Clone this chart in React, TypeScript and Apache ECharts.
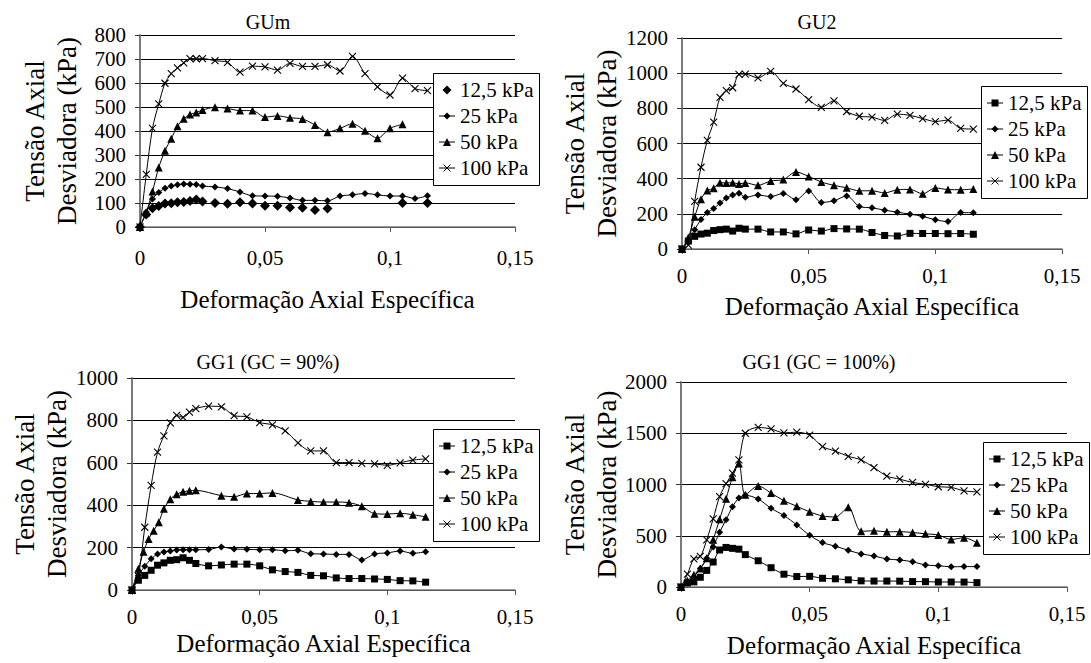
import React, { useEffect, useRef } from 'react';
import * as echarts from 'echarts';

// Axial strain steps shared by most curves
const STRAIN = [
  0, 0.0025, 0.005, 0.0075, 0.01, 0.0125, 0.015, 0.0175, 0.02, 0.0225, 0.025,
  0.03, 0.035, 0.04, 0.045, 0.05, 0.055, 0.06, 0.065, 0.07, 0.075, 0.08, 0.085,
  0.09, 0.095, 0.1, 0.105, 0.11, 0.115,
];

// GG1 (GC = 90%), 50 kPa was read at its own strain steps
const STRAIN_GG90_50 = [
  0, 0.0025, 0.0045, 0.0065, 0.0085, 0.0105, 0.0125, 0.015, 0.0175, 0.02, 0.0225,
  0.025, 0.035, 0.04, 0.045, 0.05, 0.055, 0.065, 0.07, 0.075, 0.08, 0.085, 0.09,
  0.095, 0.1, 0.105, 0.11, 0.115,
];

const PRESSURES = ['12,5 kPa', '25 kPa', '50 kPa', '100 kPa'];

// Tick values
const X_TICK_VALUES = [0, 0.05, 0.1, 0.15];
const GUM_Y_TICKS = [0, 100, 200, 300, 400, 500, 600, 700, 800];
const GU2_Y_TICKS = [0, 200, 400, 600, 800, 1000, 1200];
const GG90_Y_TICKS = [0, 200, 400, 600, 800, 1000];
const GG100_Y_TICKS = [0, 500, 1000, 1500, 2000];

// Deviator stress (kPa) — GUm
const GUM_12_5 = [0, 52, 78, 88, 98, 99, 103, 104, 108, 115, 106, 100, 97, 103, 98, 89, 89, 81, 80, 71, 77, null, null, null, null, null, 100, null, 100];
const GUM_25 = [0, 63, 117, 144, 161, 171, 176, 179, 178, 177, 171, 167, 160, 146, 130, 129, 128, 121, 111, 111, 109, 129, 134, 140, 134, 129, 129, 119, 130];
const GUM_50 = [0, 60, 148, 248, 318, 368, 420, 451, 469, 477, 487, 499, 494, 485, 485, 458, 463, 455, 450, 425, 395, 411, 430, 401, 370, 411, 428, null, null];
const GUM_100 = [0, 219, 411, 513, 599, 639, 663, 684, 702, 701, 702, 693, 686, 645, 670, 667, 654, 682, 669, 669, 676, 650, 711, 639, 584, 550, 620, 577, 568];

// Deviator stress (kPa) — GU2
const GU2_12_5 = [0, 45, 72, 85, 90, 105, 110, 113, 102, 118, 113, 113, 97, 97, 86, 108, 102, 116, 114, 113, 94, 77, 74, 89, 88, 88, 87, 88, 84];
const GU2_25 = [0, 50, 110, 168, 207, 230, 261, 290, 307, 317, 294, 307, 298, 316, 280, 330, 265, 274, 302, 242, 234, 221, 209, 198, 186, 166, 156, 207, 206];
const GU2_50 = [0, 65, 183, 283, 332, 345, 377, 376, 377, 370, 376, 362, 387, 395, 438, 413, 381, 362, 348, 331, 331, 319, 337, 339, 314, 347, 338, 337, 341];
const GU2_100 = [0, 22, 271, 465, 618, 722, 862, 901, 917, 993, 995, 973, 1010, 942, 910, 849, 806, 843, 782, 755, 750, 731, 767, 760, 742, 725, 733, 686, 682];

// Deviator stress (kPa) — GG1 (GC = 90%)
const GG90_12_5 = [0, 46, 69, 93, 117, 128, 140, 143, 152, 140, 125, 114, 118, 122, 122, 114, 95, 87, 83, 69, 67, 57, 54, 54, 52, 50, 44, 43, 37];
const GG90_25 = [0, 68, 112, 147, 170, 179, 184, 189, 190, 190, 190, 191, 203, 193, 192, 190, 190, 185, 187, 171, 170, 168, 168, 142, 170, 175, 184, 173, 180];
const GG90_50 = [0, 100, 180, 240, 280, 320, 383, 428, 452, 463, 468, 470, 445, 440, 455, 455, 458, 425, 418, 415, 415, 412, 395, 360, 358, 362, 355, 345];
const GG90_100 = [0, 65, 296, 493, 650, 727, 788, 824, 814, 839, 856, 867, 864, 822, 817, 790, 779, 751, 694, 656, 656, 601, 601, 597, 595, 588, 600, 613, 618];

// Deviator stress (kPa) — GG1 (GC = 100%)
const GG100_12_5 = [0, 40, 50, 95, 162, 244, 361, 386, 377, 369, 316, 256, 188, 125, 102, 104, 85, 80, 70, 60, 58, 58, 57, 53, 52, 49, 49, 48, 43];
const GG100_25 = [0, 40, 100, 180, 280, 390, 535, 655, 782, 868, 895, 858, 768, 697, 606, 504, 433, 398, 358, 323, 303, 273, 264, 246, 215, 208, 197, 199, 199];
const GG100_50 = [0, 60, 120, 180, 280, 460, 660, 860, 1070, 1204, 900, 986, 916, 842, 788, 733, 693, 683, 777, 543, 549, 538, 540, 532, 519, 507, 463, 481, 432];
const GG100_100 = [0, 125, 275, 298, 460, 665, 882, 1008, 1110, 1240, 1500, 1557, 1542, 1504, 1510, 1482, 1370, 1325, 1275, 1240, 1165, 1082, 1052, 1020, 1002, 978, 972, 938, 928];

const FONT = 'Liberation Serif';
// Every text is set at this base size and scaled to its final size
const BASE_FONT_SIZE = 20;
const X_MARK = 'path://M0,0L10,10M10,0L0,10';
const X_TITLE = 'Deformação Axial Específica';
const Y_TITLE = 'Tensão Axial\nDesviadora (kPa)';

type Kind = 'dot' | 'square' | 'diamond' | 'triangle' | 'cross';
type Curve = { strain: number[]; values: (number | null)[]; kind: Kind };

type Panel = {
  title: string;
  titleX: number;
  titleY: number;
  yTicks: number[];
  grid: { left: number; top: number; width: number; height: number };
  legend: { left: number; top: number };
  yTitleX: number;
  xTitleGap: number;
  xLabelMargin: number;
  curves: Curve[];
};

const PANELS: Panel[] = [
  {
    title: 'GUm', titleX: 268, titleY: 22, yTicks: GUM_Y_TICKS,
    grid: { left: 140, top: 35, width: 375, height: 192 },
    legend: { left: 433, top: 73 },
    yTitleX: 51, xTitleGap: 60, xLabelMargin: 20,
    curves: [
      { strain: STRAIN, values: GUM_12_5, kind: 'dot' },
      { strain: STRAIN, values: GUM_25, kind: 'diamond' },
      { strain: STRAIN, values: GUM_50, kind: 'triangle' },
      { strain: STRAIN, values: GUM_100, kind: 'cross' },
    ],
  },
  {
    title: 'GU2', titleX: 817, titleY: 22, yTicks: GU2_Y_TICKS,
    grid: { left: 682, top: 38, width: 380, height: 211 },
    legend: { left: 981, top: 86 },
    yTitleX: 591, xTitleGap: 45, xLabelMargin: 16,
    curves: [
      { strain: STRAIN, values: GU2_12_5, kind: 'square' },
      { strain: STRAIN, values: GU2_25, kind: 'diamond' },
      { strain: STRAIN, values: GU2_50, kind: 'triangle' },
      { strain: STRAIN, values: GU2_100, kind: 'cross' },
    ],
  },
  {
    title: 'GG1 (GC = 90%)', titleX: 268, titleY: 362, yTicks: GG90_Y_TICKS,
    grid: { left: 132, top: 378, width: 383, height: 212 },
    legend: { left: 433, top: 429 },
    yTitleX: 41, xTitleGap: 41, xLabelMargin: 16,
    curves: [
      { strain: STRAIN, values: GG90_12_5, kind: 'square' },
      { strain: STRAIN, values: GG90_25, kind: 'diamond' },
      { strain: STRAIN_GG90_50, values: GG90_50, kind: 'triangle' },
      { strain: STRAIN, values: GG90_100, kind: 'cross' },
    ],
  },
  {
    title: 'GG1 (GC = 100%)', titleX: 819, titleY: 362, yTicks: GG100_Y_TICKS,
    grid: { left: 681, top: 382, width: 386, height: 205 },
    legend: { left: 983, top: 442 },
    yTitleX: 591, xTitleGap: 46, xLabelMargin: 16,
    curves: [
      { strain: STRAIN, values: GG100_12_5, kind: 'square' },
      { strain: STRAIN, values: GG100_25, kind: 'diamond' },
      { strain: STRAIN, values: GG100_50, kind: 'triangle' },
      { strain: STRAIN, values: GG100_100, kind: 'cross' },
    ],
  },
];

const MARKERS: Record<Kind, { symbol: string; size: number }> = {
  dot: { symbol: 'diamond', size: 10 },
  square: { symbol: 'rect', size: 7 },
  diamond: { symbol: 'diamond', size: 7 },
  triangle: { symbol: 'triangle', size: 8 },
  cross: { symbol: X_MARK, size: 7 },
};

const formatStrain = (v: number) => {
  const r = Math.round(v * 10000) / 10000;
  return r === 0 ? '0' : String(r).replace('.', ',');
};

const X_MAX = X_TICK_VALUES[X_TICK_VALUES.length - 1];

function buildOption() {
  const grid: any[] = [];
  const xAxis: any[] = [];
  const yAxis: any[] = [];
  const series: any[] = [];

  PANELS.forEach((p, gi) => {
    grid.push({ ...p.grid });

    xAxis.push({
      type: 'value',
      gridIndex: gi,
      min: X_TICK_VALUES[0],
      max: X_MAX,
      interval: X_TICK_VALUES[1] - X_TICK_VALUES[0],
      axisLine: { show: true, lineStyle: { color: '#7a7a7a', width: 1.5 } },
      axisTick: { show: true, inside: false, length: 5, lineStyle: { color: '#555', width: 1 } },
      axisLabel: { show: false },
      splitLine: { show: false },
    });

    yAxis.push({
      type: 'value',
      gridIndex: gi,
      min: p.yTicks[0],
      max: p.yTicks[p.yTicks.length - 1],
      interval: p.yTicks[1] - p.yTicks[0],
      axisLine: { show: true, lineStyle: { color: '#7a7a7a', width: 2 } },
      axisTick: { show: true, inside: false, length: 5, lineStyle: { color: '#333', width: 1 } },
      axisLabel: { show: false },
      splitLine: { show: true, lineStyle: { color: '#000', width: 1 } },
    });

    p.curves.forEach((c, ci) => {
      const m = MARKERS[c.kind];
      const data = c.strain
        .map((x, i) => [x, c.values[i]])
        .filter((pt) => pt[1] !== null && pt[1] !== undefined);
      const common = {
        name: `${p.title} ${PRESSURES[ci]}`,
        xAxisIndex: gi,
        yAxisIndex: gi,
        data,
        symbol: m.symbol,
        symbolSize: m.size,
        itemStyle: c.kind === 'cross'
          ? { color: '#000', borderColor: '#000', borderWidth: 1.1, opacity: 1 }
          : { color: '#000', borderWidth: 0, opacity: 1 },
        z: 3 + ci,
      };
      if (c.kind === 'dot') {
        series.push({ ...common, type: 'scatter' });
      } else {
        series.push({
          ...common,
          type: 'line',
          smooth: 0.3,
          showAllSymbol: true,
          connectNulls: true,
          lineStyle: { color: '#000', width: 1 },
        });
      }
    });
  });

  return { animation: false, grid, xAxis, yAxis, series };
}

// Text set at the base size, scaled about its anchor to the wanted size
const txt = (text: string, x: number, y: number, size: number, align: string, vAlign: string, extra: any = {}) => {
  const k = size / BASE_FONT_SIZE;
  const { style: extraStyle, ...rest } = extra;
  return {
    type: 'text',
    x,
    y,
    z: 100,
    silent: true,
    scaleX: k,
    scaleY: k,
    ...rest,
    style: {
      text,
      fill: '#000',
      fontFamily: FONT,
      fontSize: BASE_FONT_SIZE,
      align,
      verticalAlign: vAlign,
      ...(extraStyle || {}),
    },
  };
};

// Legend key: short line with the series marker, or the marker alone for scatter
function legendKey(kind: Kind, cx: number, cy: number): any[] {
  const els: any[] = [];
  const stroke = { stroke: '#000', lineWidth: 1 };
  if (kind !== 'dot') {
    els.push({ type: 'line', z: 101, silent: true, shape: { x1: cx - 8, y1: cy, x2: cx + 8, y2: cy }, style: stroke });
  }
  const s = kind === 'dot' ? 9 : kind === 'triangle' ? 8 : 7;
  const h = s / 2;
  if (kind === 'dot' || kind === 'diamond') {
    els.push({ type: 'polygon', z: 102, silent: true, shape: { points: [[cx, cy - h], [cx + h, cy], [cx, cy + h], [cx - h, cy]] }, style: { fill: '#000' } });
  } else if (kind === 'square') {
    els.push({ type: 'rect', z: 102, silent: true, shape: { x: cx - h, y: cy - h, width: s, height: s }, style: { fill: '#000' } });
  } else if (kind === 'triangle') {
    els.push({ type: 'polygon', z: 102, silent: true, shape: { points: [[cx, cy - h], [cx + h, cy + h], [cx - h, cy + h]] }, style: { fill: '#000' } });
  } else {
    els.push({ type: 'line', z: 102, silent: true, shape: { x1: cx - h, y1: cy - h, x2: cx + h, y2: cy + h }, style: stroke });
    els.push({ type: 'line', z: 102, silent: true, shape: { x1: cx + h, y1: cy - h, x2: cx - h, y2: cy + h }, style: stroke });
  }
  return els;
}

function buildGraphic(chart: any) {
  const toPx = (gi: number, x: number, y: number): number[] => {
    const p = PANELS[gi];
    let pt: any = null;
    try {
      pt = chart.convertToPixel({ gridIndex: gi }, [x, y]);
    } catch (e) {
      pt = null;
    }
    if (!pt || !isFinite(pt[0]) || !isFinite(pt[1])) {
      const yMax = p.yTicks[p.yTicks.length - 1];
      pt = [p.grid.left + (x / X_MAX) * p.grid.width, p.grid.top + p.grid.height - (y / yMax) * p.grid.height];
    }
    return pt;
  };

  const els: any[] = [];
  PANELS.forEach((p, gi) => {
    els.push(txt(p.title, p.titleX, p.titleY, 20, 'center', 'middle'));

    X_TICK_VALUES.forEach((v) => {
      const [px, py] = toPx(gi, v, 0);
      els.push(txt(formatStrain(v), px, py + p.xLabelMargin, 21, 'center', 'top'));
    });

    p.yTicks.forEach((v) => {
      const [px, py] = toPx(gi, 0, v);
      els.push(txt(String(v), px - 14, py, 21, 'right', 'middle'));
    });

    const axisY = p.grid.top + p.grid.height;
    els.push(txt(X_TITLE, p.grid.left + p.grid.width / 2, axisY + p.xTitleGap, 25, 'center', 'top'));
    els.push(
      txt(Y_TITLE, p.yTitleX, p.grid.top + p.grid.height / 2, 27, 'center', 'middle', {
        rotation: Math.PI / 2,
        style: { lineHeight: Math.round((32 * BASE_FONT_SIZE) / 27) },
      })
    );

    const L = p.legend.left;
    const T = p.legend.top;
    els.push({
      type: 'rect',
      z: 99,
      silent: true,
      shape: { x: L + 0.5, y: T + 0.5, width: 106, height: 112 },
      style: { fill: '#fff', stroke: '#000', lineWidth: 1 },
    });
    p.curves.forEach((c, ci) => {
      const cy = T + 17 + ci * 26;
      legendKey(c.kind, L + 14, cy).forEach((e) => els.push(e));
      els.push(txt(PRESSURES[ci], L + 27, cy, 21, 'left', 'middle'));
    });
  });
  return els;
}

export default function App() {
  const ref = useRef<HTMLDivElement>(null);

  useEffect(() => {
    if (!ref.current) return;
    const chart = echarts.init(ref.current, undefined, { renderer: 'svg' });
    chart.setOption(buildOption() as any);
    chart.setOption({ graphic: buildGraphic(chart) } as any);
    return () => chart.dispose();
  }, []);

  return (
    <div
      ref={ref}
      style={{ position: 'fixed', left: 0, top: 0, width: 1091, height: 663, background: '#fff' }}
    />
  );
}
